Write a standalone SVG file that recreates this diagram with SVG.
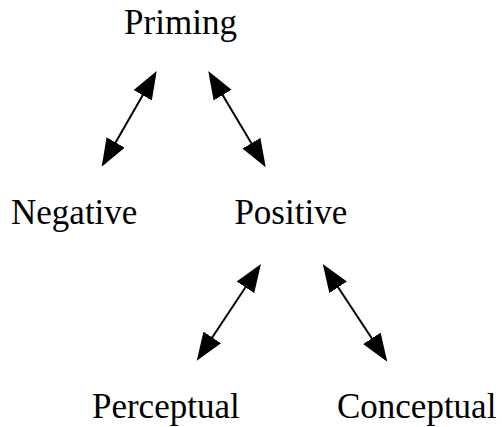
<svg xmlns="http://www.w3.org/2000/svg" width="502" height="427" viewBox="0 0 502 427">
  <style>
    .lbl { font-family: "Liberation Serif", "Times New Roman", serif; font-size: 35px; fill: #000; text-anchor: middle; }
    .edge { stroke: #000; stroke-width: 2; fill: none; marker-start: url(#head); marker-end: url(#head); }
  </style>
  <defs>
    <marker id="head" markerUnits="userSpaceOnUse" markerWidth="28" markerHeight="21" refX="25" refY="10.5" orient="auto-start-reverse" viewBox="0 0 28 21">
      <path d="M0,0 L28,10.5 L0,21 z" fill="#000"/>
    </marker>
  </defs>
  <rect width="502" height="427" fill="#fff"/>
  <g id="connectors">
    <line class="edge" x1="155.2" y1="73.6" x2="103.2" y2="164.1"/>
    <line class="edge" x1="209.8" y1="73.6" x2="264.2" y2="164.7"/>
    <line class="edge" x1="259.3" y1="266.5" x2="198.4" y2="358.2"/>
    <line class="edge" x1="324.4" y1="266.5" x2="385.6" y2="359.2"/>
  </g>
  <g id="priming"><text class="lbl" x="180.5" y="33.5">Priming</text></g>
  <g id="negative"><text class="lbl" x="74.2" y="224.3">Negative</text></g>
  <g id="positive"><text class="lbl" x="290.8" y="224.3">Positive</text></g>
  <g id="perceptual"><text class="lbl" x="165.8" y="418.3">Perceptual</text></g>
  <g id="conceptual"><text class="lbl" x="416.7" y="418.3">Conceptual</text></g>
</svg>
